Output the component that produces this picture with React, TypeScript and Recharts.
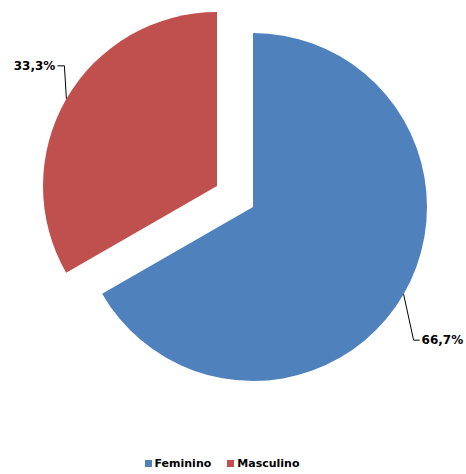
import React from "react";
import { Cell, Legend, Pie, PieChart } from "recharts";

const categories = ["Feminino", "Masculino"];
const shares = [66.7, 33.3];
const colors = ["#4F81BD", "#C0504D"];

const data = categories.map((name, i) => ({ name, value: shares[i] }));

// leader line bend (dx, dy from slice edge) per slice, as Excel placed them
const LEADER = [
  { dx: 10, dy: 46, run: 6 },
  { dx: -2, dy: -33, run: -7 },
];

const RAD = Math.PI / 180;
const FONT = "'DejaVu Sans', Verdana, sans-serif";

function makeLabel(visible: number) {
  return (props: any) => {
    const { cx, cy, midAngle, outerRadius, percent, index } = props;
    if (index !== visible) return null;
    const x0 = cx + outerRadius * Math.cos(-midAngle * RAD);
    const y0 = cy + outerRadius * Math.sin(-midAngle * RAD);
    const l = LEADER[index];
    const x1 = x0 + l.dx;
    const y1 = y0 + l.dy;
    const x2 = x1 + l.run;
    const right = l.run > 0;
    const txt = (percent * 100).toFixed(1).replace(".", ",") + "%";
    return (
      <g>
        <polyline
          points={`${x0},${y0} ${x1},${y1} ${x2},${y1}`}
          fill="none"
          stroke="#000"
          strokeWidth={1}
        />
        <text
          x={right ? x2 + 2 : x2 - 2}
          y={y1 + 4}
          textAnchor={right ? "start" : "end"}
          fontFamily={FONT}
          fontWeight="bold"
          fontSize={12}
          fill="#000"
        >
          {txt}
        </text>
      </g>
    );
  };
}

function LegendContent() {
  return (
    <div
      style={{
        display: "flex",
        justifyContent: "center",
        alignItems: "center",
        gap: 16,
        fontFamily: FONT,
        fontWeight: "bold",
        fontSize: 11,
        color: "#000",
      }}
    >
      {categories.map((c, i) => (
        <div key={c} style={{ display: "flex", alignItems: "center" }}>
          <span
            style={{
              display: "inline-block",
              width: 7,
              height: 7,
              background: colors[i],
              marginRight: 3,
            }}
          />
          {c}
        </div>
      ))}
    </div>
  );
}

export default function App() {
  return (
    <div style={{ position: "absolute", left: 0, top: 0, background: "#fff" }}>
      <PieChart width={466} height={474} margin={{ top: 0, right: 0, bottom: 0, left: 0 }}>
        {/* main slice */}
        <Pie
          data={data}
          dataKey="value"
          nameKey="name"
          cx={253}
          cy={207}
          outerRadius={174}
          startAngle={90}
          endAngle={-270}
          stroke="none"
          label={makeLabel(0)}
          labelLine={false}
          isAnimationActive={false}
        >
          {data.map((d, i) => (
            <Cell key={d.name} fill={i === 0 ? colors[i] : "none"} />
          ))}
        </Pie>
        {/* exploded slice */}
        <Pie
          data={data}
          dataKey="value"
          nameKey="name"
          cx={217}
          cy={186}
          outerRadius={174}
          startAngle={90}
          endAngle={-270}
          stroke="none"
          label={makeLabel(1)}
          labelLine={false}
          isAnimationActive={false}
        >
          {data.map((d, i) => (
            <Cell key={d.name} fill={i === 1 ? colors[i] : "none"} />
          ))}
        </Pie>
        <Legend
          content={<LegendContent />}
          wrapperStyle={{ top: 457, left: 0, width: 444 }}
        />
      </PieChart>
    </div>
  );
}
